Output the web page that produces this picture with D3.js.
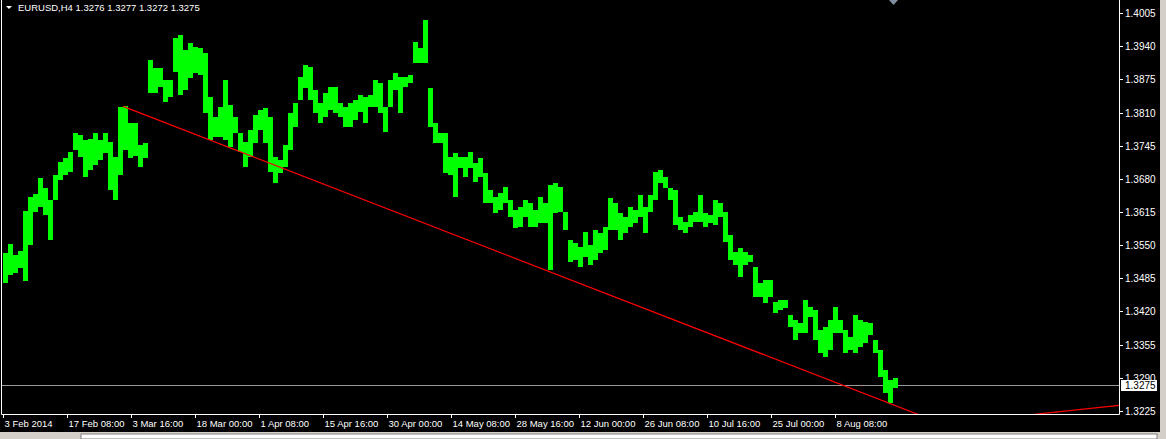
<!DOCTYPE html>
<html lang="en">
<style>
body { margin: 0; background: #d4d0c8; overflow: hidden; }
text { font-family: "Liberation Sans", Arial, sans-serif; font-size: 9.5px; }
</style>
<script type="text/javascript" src="https://d3js.org/d3.v7.min.js"></script>
<body>
<script type="text/javascript">

// EURUSD H4, highs / lows of blocks of 5 bars
var highs = [
  1.3535, 1.3552, 1.3531, 1.3539, 1.3617, 1.3644, 1.3650, 1.3682, 1.3662, 1.3639,
  1.3688, 1.3713, 1.3721, 1.3733, 1.3770, 1.3766, 1.3756, 1.3758, 1.3770, 1.3756,
  1.3770, 1.3752, 1.3723, 1.3821, 1.3823, 1.3789, 1.3789, 1.3746, 1.3750, 1.3913,
  1.3897, 1.3897, 1.3874, 1.3874, 1.3956, 1.3962, 1.3933, 1.3946, 1.3938, 1.3936,
  1.3927, 1.3840, 1.3801, 1.3821, 1.3874, 1.3825, 1.3801, 1.3770, 1.3752, 1.3776,
  1.3805, 1.3815, 1.3819, 1.3801, 1.3723, 1.3717, 1.3746, 1.3809, 1.3829, 1.3880,
  1.3903, 1.3899, 1.3854, 1.3829, 1.3848, 1.3860, 1.3860, 1.3829, 1.3821, 1.3829,
  1.3835, 1.3844, 1.3840, 1.3844, 1.3874, 1.3868, 1.3821, 1.3874, 1.3887, 1.3880,
  1.3880, 1.3884, 1.3948, 1.3936, 1.3991, 1.3858, 1.3789, 1.3770, 1.3770, 1.3723,
  1.3731, 1.3723, 1.3723, 1.3733, 1.3711, 1.3721, 1.3691, 1.3658, 1.3644, 1.3652,
  1.3664, 1.3639, 1.3619, 1.3625, 1.3639, 1.3633, 1.3619, 1.3644, 1.3633, 1.3668,
  1.3672, 1.3664, 1.3615, 1.3560, 1.3554, 1.3546, 1.3576, 1.3550, 1.3580, 1.3574,
  1.3586, 1.3642, 1.3633, 1.3613, 1.3605, 1.3625, 1.3619, 1.3648, 1.3625, 1.3648,
  1.3693, 1.3697, 1.3684, 1.3662, 1.3658, 1.3605, 1.3595, 1.3609, 1.3615, 1.3648,
  1.3613, 1.3609, 1.3639, 1.3633, 1.3615, 1.3570, 1.3537, 1.3544, 1.3537, 1.3531,
  1.3507, 1.3476, 1.3482, 1.3482, 1.3439, 1.3443, 1.3443, 1.3413, 1.3403, 1.3397,
  1.3443, 1.3429, 1.3423, 1.3384, 1.3390, 1.3403, 1.3429, 1.3403, 1.3384, 1.3370,
  1.3413, 1.3403, 1.3399, 1.3397, 1.3364, 1.3345, 1.3305, 1.3286, 1.3290
];
var lows = [
  1.3476, 1.3492, 1.3495, 1.3505, 1.3480, 1.3550, 1.3615, 1.3625, 1.3609, 1.3560,
  1.3639, 1.3678, 1.3688, 1.3693, 1.3737, 1.3723, 1.3684, 1.3697, 1.3707, 1.3717,
  1.3731, 1.3658, 1.3639, 1.3688, 1.3737, 1.3721, 1.3725, 1.3703, 1.3721, 1.3848,
  1.3848, 1.3860, 1.3831, 1.3840, 1.3889, 1.3844, 1.3854, 1.3878, 1.3887, 1.3884,
  1.3809, 1.3756, 1.3762, 1.3762, 1.3756, 1.3742, 1.3770, 1.3733, 1.3703, 1.3723,
  1.3750, 1.3776, 1.3750, 1.3693, 1.3672, 1.3691, 1.3703, 1.3737, 1.3782, 1.3835,
  1.3858, 1.3835, 1.3809, 1.3789, 1.3801, 1.3815, 1.3809, 1.3801, 1.3782, 1.3782,
  1.3795, 1.3811, 1.3789, 1.3821, 1.3821, 1.3809, 1.3772, 1.3821, 1.3854, 1.3809,
  1.3860, 1.3868, 1.3907, 1.3907, 1.3907, 1.3782, 1.3750, 1.3750, 1.3691, 1.3688,
  1.3644, 1.3701, 1.3684, 1.3701, 1.3674, 1.3684, 1.3633, 1.3633, 1.3613, 1.3619,
  1.3633, 1.3605, 1.3584, 1.3586, 1.3605, 1.3586, 1.3586, 1.3593, 1.3593, 1.3501,
  1.3613, 1.3615, 1.3580, 1.3517, 1.3521, 1.3507, 1.3527, 1.3511, 1.3521, 1.3535,
  1.3541, 1.3580, 1.3580, 1.3560, 1.3574, 1.3586, 1.3593, 1.3605, 1.3574, 1.3615,
  1.3639, 1.3672, 1.3662, 1.3639, 1.3590, 1.3580, 1.3574, 1.3586, 1.3595, 1.3595,
  1.3586, 1.3593, 1.3590, 1.3605, 1.3556, 1.3521, 1.3511, 1.3488, 1.3511, 1.3517,
  1.3448, 1.3448, 1.3437, 1.3448, 1.3417, 1.3423, 1.3427, 1.3390, 1.3364, 1.3378,
  1.3378, 1.3409, 1.3364, 1.3339, 1.3331, 1.3345, 1.3378, 1.3378, 1.3339, 1.3345,
  1.3339, 1.3350, 1.3358, 1.3374, 1.3339, 1.3292, 1.3260, 1.3241, 1.3270
];
var barsPerBlock = 5;

// price axis labels and time axis labels (one every 64 bars)
var priceTicks = ["1.4005", "1.3940", "1.3875", "1.3810", "1.3745", "1.3680", "1.3615",
                  "1.3550", "1.3485", "1.3420", "1.3355", "1.3290", "1.3225"];
var timeLabels = ["3 Feb 2014", "17 Feb 08:00", "3 Mar 16:00", "18 Mar 00:00", "1 Apr 08:00",
                  "15 Apr 16:00", "30 Apr 00:00", "14 May 08:00", "28 May 16:00", "12 Jun 00:00",
                  "26 Jun 08:00", "10 Jul 16:00", "25 Jul 00:00", "8 Aug 08:00"];
var barsPerLabel = 64;

// last price and the two trend lines (bar index, price)
var lastPrice = 1.3275;
var trendBars = [120, 897], trendPrices = [1.3822, 1.3232];
var lowerBars = [1034, 1115], lowerPrices = [1.3219, 1.3236];
var header = "EURUSD,H4  1.3276 1.3277 1.3272 1.3275";

var width = 1166, height = 439;
var plotRight = 1119, plotBottom = 414;

var x = d3.scaleLinear().domain([0, 1116]).range([3, plotRight]);
var y = d3.scaleLinear().domain([1.3225, 1.4005]).range([411, 13]);

var svg = d3.select("body").append("svg")
    .attr("width", width)
    .attr("height", height)
    .style("display", "block");

// window background and black chart area
svg.append("rect").attr("width", width).attr("height", height).attr("fill", "#d4d0c8");
svg.append("rect").attr("width", 1160).attr("height", 432).attr("fill", "#000");

svg.append("clipPath").attr("id", "plot")
  .append("rect").attr("x", 2).attr("y", 0).attr("width", plotRight - 2).attr("height", plotBottom);

var plot = svg.append("g").attr("clip-path", "url(#plot)");

// current price line
plot.append("line")
    .attr("x1", 2).attr("x2", plotRight)
    .attr("y1", Math.round(y(lastPrice)) + 0.5).attr("y2", Math.round(y(lastPrice)) + 0.5)
    .attr("stroke", "#9a9a9a");

// price bars
plot.selectAll("rect.bar")
    .data(highs)
  .enter().append("rect")
    .attr("class", "bar")
    .attr("x", function(d, i) { return x(i * barsPerBlock); })
    .attr("width", function(d, i) { return x(barsPerBlock) - x(0); })
    .attr("y", function(d) { return Math.round(y(d)); })
    .attr("height", function(d, i) { return Math.max(1, Math.round(y(lows[i]) - y(d))); })
    .attr("fill", "#00ff00");

// trend lines, drawn as rays to the right
function trend(bars, prices) {
  var k = (prices[1] - prices[0]) / (bars[1] - bars[0]);
  var b0 = Math.min(bars[0], 900), b1 = 1200;
  plot.append("line")
      .attr("x1", x(b0)).attr("y1", y(prices[0] + k * (b0 - bars[0])))
      .attr("x2", x(b1)).attr("y2", y(prices[0] + k * (b1 - bars[0])))
      .attr("stroke", "#ff0000")
      .attr("stroke-width", 1.2);
}
trend(trendBars, trendPrices);
trend(lowerBars, lowerPrices);

// frame
svg.append("path")
    .attr("d", "M1.5,0V" + (plotBottom + 0.5) + "H" + (plotRight + 0.5) + "V0")
    .attr("fill", "none")
    .attr("stroke", "#fff");

// price axis
var pa = svg.append("g").selectAll("g")
    .data(priceTicks)
  .enter().append("g")
    .attr("transform", function(d) { return "translate(0," + (Math.round(y(+d)) + 0.5) + ")"; });
pa.append("line").attr("x1", plotRight).attr("x2", plotRight + 4).attr("stroke", "#fff");
pa.append("text")
    .attr("x", 1125).attr("dy", "0.35em")
    .attr("fill", "#fff")
    .style("font-size", "10px")
    .text(function(d) { return d; });

// last price label
var ly = Math.round(y(lastPrice));
svg.append("rect").attr("x", 1121).attr("y", ly - 5).attr("width", 36).attr("height", 11).attr("fill", "#fff");
svg.append("text").attr("x", 1125).attr("y", ly).attr("dy", "0.35em").attr("fill", "#000")
    .style("font-size", "10px").text(lastPrice.toFixed(4));

// time axis
var ta = svg.append("g").selectAll("g")
    .data(timeLabels)
  .enter().append("g")
    .attr("transform", function(d, i) { return "translate(" + (Math.round(x(i * barsPerLabel)) + 0.5) + ",0)"; });
ta.append("line").attr("y1", plotBottom).attr("y2", plotBottom + 4).attr("stroke", "#fff");
ta.append("text")
    .attr("x", 1).attr("y", 427)
    .attr("fill", "#fff")
    .text(function(d) { return d; });

// header
svg.append("path").attr("d", "M6,6H12L9,9Z").attr("fill", "#fff");
svg.append("text").attr("x", 18).attr("y", 11).attr("fill", "#fff").text(header);

// shift marker
svg.append("path").attr("d", "M889,0H898L893.5,5Z").attr("fill", "#7f8fa0");

// bottom tab strip
svg.append("rect").attr("x", 0).attr("y", 432).attr("width", width).attr("height", 7).attr("fill", "#d4d0c8");
svg.append("rect").attr("x", 81).attr("y", 434).attr("width", 1076).attr("height", 5).attr("fill", "#fff").attr("stroke", "#808080");

</script>
</body>
</html>
